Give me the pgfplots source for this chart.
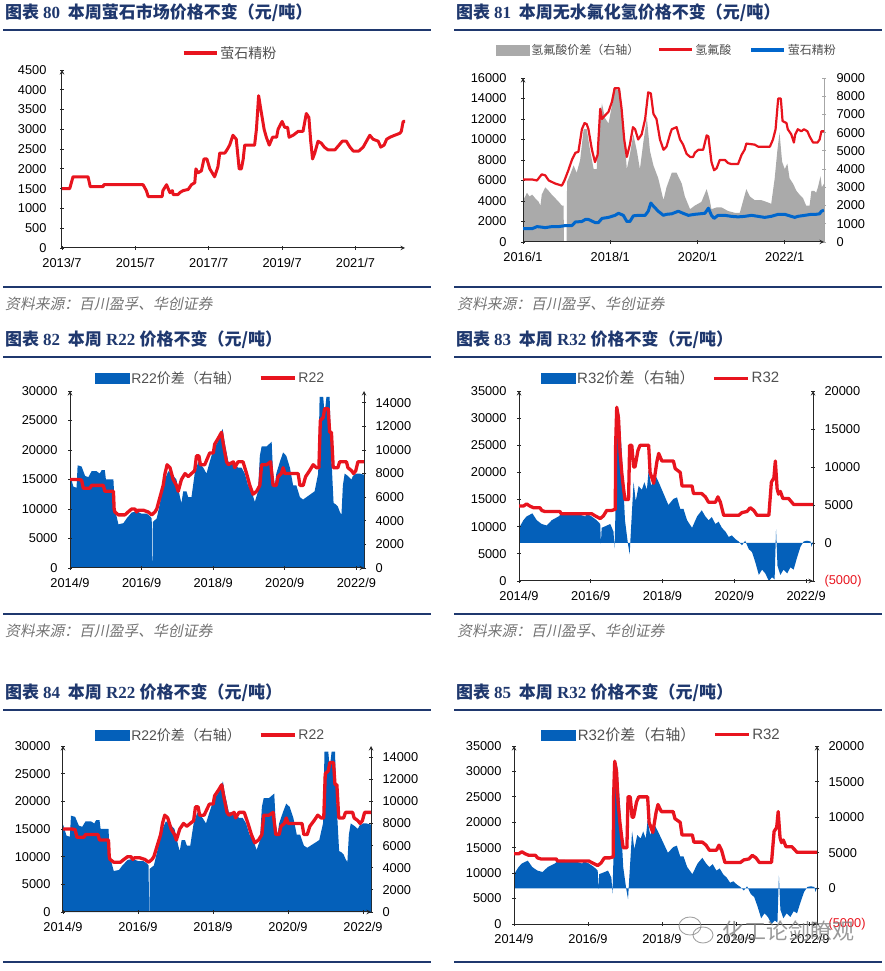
\documentclass[border=0pt]{standalone}
\usepackage{fontspec}
\setmainfont{Liberation Sans}
\newfontfamily\cjk{Noto Sans CJK SC}
\newfontfamily\cjkit{Noto Sans CJK SC}[FakeSlant=0.2]
\newfontfamily\serifb{Liberation Serif}
\usepackage{pgfplots}
\usepackage{pgfplotstable}
\pgfplotsset{compat=1.18}
\definecolor{navy}{RGB}{31,56,110}
\definecolor{cred}{RGB}{232,20,30}
\definecolor{cblue}{RGB}{4,96,186}
\definecolor{lblue}{RGB}{0,102,204}
\definecolor{cgray}{RGB}{170,170,170}
\definecolor{txtg}{RGB}{80,80,80}

% ---------- data ----------
\pgfplotstableread{
x y
2013.50 1500
2013.71 1500
2013.80 1800
2014.21 1800
2014.27 1550
2014.62 1550
2014.64 1600
2015.71 1600
2015.80 1450
2015.85 1300
2016.23 1300
2016.25 1450
2016.35 1600
2016.44 1400
2016.51 1450
2016.53 1350
2016.66 1350
2016.71 1400
2016.80 1450
2016.94 1480
2017.03 1600
2017.12 1650
2017.15 2000
2017.21 1900
2017.30 1950
2017.37 2250
2017.45 2250
2017.53 2000
2017.66 1800
2017.75 2050
2017.80 2400
2017.94 2400
2018.01 2500
2018.07 2600
2018.16 2850
2018.25 2750
2018.33 2000
2018.39 2000
2018.44 2250
2018.48 2600
2018.75 2600
2018.80 3000
2018.86 3850
2018.92 3500
2019.01 3000
2019.07 2800
2019.15 2600
2019.24 2800
2019.35 2800
2019.39 3000
2019.50 3200
2019.57 3050
2019.65 3050
2019.69 2800
2019.80 2850
2019.94 2950
2020.07 2950
2020.16 3400
2020.23 3300
2020.28 2700
2020.33 2250
2020.39 2400
2020.48 2700
2020.57 2650
2020.65 2550
2020.75 2480
2020.94 2480
2021.05 2600
2021.14 2700
2021.25 2700
2021.35 2550
2021.44 2450
2021.59 2450
2021.71 2550
2021.80 2700
2021.89 2850
2021.98 2750
2022.12 2700
2022.19 2550
2022.28 2600
2022.35 2750
2022.44 2800
2022.57 2850
2022.71 2900
2022.75 2950
2022.80 3200
2022.85 3200
}\fluor

\pgfplotstableread{
x y
2016.00 6100
2016.21 6100
2016.32 6000
2016.43 6600
2016.51 6500
2016.59 6000
2016.74 5700
2016.89 5500
2016.95 6000
2017.04 7000
2017.12 8000
2017.20 8700
2017.27 8800
2017.35 11000
2017.41 11600
2017.46 11500
2017.50 11000
2017.58 9000
2017.65 7800
2017.71 8500
2017.77 13000
2017.81 12000
2017.87 12300
2017.96 12700
2018.04 13700
2018.10 15000
2018.20 15000
2018.26 13000
2018.32 10000
2018.38 8300
2018.45 9500
2018.52 11200
2018.57 11000
2018.64 10000
2018.72 10500
2018.80 12000
2018.87 14600
2018.93 14500
2018.99 12500
2019.06 12000
2019.14 10000
2019.22 9000
2019.29 9300
2019.37 10500
2019.41 11000
2019.52 11200
2019.60 10000
2019.67 9500
2019.75 8600
2019.83 8300
2019.90 8300
2019.94 8700
2020.02 9000
2020.13 9000
2020.21 10400
2020.25 10300
2020.32 7800
2020.38 7000
2020.44 7200
2020.51 8000
2020.63 8000
2020.70 7700
2020.78 7600
2020.93 7600
2021.01 8500
2021.08 9000
2021.12 9600
2021.31 9500
2021.39 9300
2021.66 9300
2021.73 10000
2021.79 11000
2021.85 14000
2021.91 14000
2021.95 11800
2022.04 11600
2022.07 11000
2022.15 10500
2022.21 9700
2022.24 10500
2022.30 11000
2022.38 10800
2022.44 11000
2022.52 10800
2022.57 10300
2022.65 9700
2022.75 9700
2022.80 10000
2022.84 10800
2022.90 10800
}\hfred

\pgfplotstableread{
x y
2016.00 1300
2016.21 1300
2016.32 1500
2016.43 1450
2016.51 1400
2016.66 1500
2016.82 1500
2016.97 1600
2017.12 1600
2017.20 1950
2017.35 2000
2017.43 2200
2017.50 2200
2017.65 1900
2017.73 1900
2017.81 2300
2017.96 2400
2018.11 2600
2018.19 2800
2018.30 2600
2018.38 2000
2018.45 2000
2018.53 2550
2018.64 2600
2018.80 2600
2018.87 3000
2018.93 3800
2018.99 3500
2019.10 3000
2019.22 2600
2019.29 2700
2019.41 2750
2019.56 3000
2019.67 2800
2019.79 2600
2019.94 2700
2020.17 2800
2020.25 3300
2020.32 2600
2020.38 2300
2020.47 2600
2020.63 2600
2020.78 2500
2020.93 2450
2021.08 2500
2021.24 2600
2021.39 2500
2021.54 2400
2021.69 2500
2021.85 2700
2022.00 2700
2022.15 2500
2022.23 2400
2022.30 2500
2022.46 2600
2022.61 2700
2022.72 2700
2022.80 2750
2022.84 3000
2022.90 3100
}\hfblue

\pgfplotstableread{
x y
2016.00 2300
2016.05 2500
2016.09 2700
2016.15 2500
2016.21 2600
2016.28 2400
2016.36 2200
2016.40 2000
2016.43 2600
2016.51 3000
2016.59 2800
2016.66 2600
2016.74 2400
2016.82 2200
2016.89 2000
2016.93 2000
2016.94 0
2017.00 0
2017.01 3300
2017.08 3700
2017.16 4200
2017.23 3800
2017.31 4500
2017.39 6200
2017.46 6200
2017.54 5000
2017.62 4000
2017.69 4000
2017.73 6000
2017.81 7600
2017.88 6800
2017.96 6500
2018.04 7500
2018.11 8400
2018.23 8300
2018.30 6500
2018.38 4000
2018.45 4800
2018.53 5900
2018.61 5000
2018.68 4000
2018.76 5500
2018.84 6800
2018.91 5000
2018.99 4200
2019.10 3500
2019.22 2300
2019.29 3000
2019.41 3800
2019.52 3800
2019.64 3200
2019.71 2500
2019.83 1800
2019.94 2000
2020.09 2200
2020.21 2900
2020.28 2300
2020.32 1800
2020.44 1900
2020.55 1900
2020.70 1700
2020.86 1600
2020.97 1600
2021.05 2300
2021.12 2900
2021.20 2500
2021.31 2300
2021.46 2300
2021.58 2200
2021.69 2100
2021.77 3500
2021.83 5000
2021.88 6000
2021.94 4400
2022.00 4000
2022.06 4300
2022.11 3500
2022.19 3200
2022.27 2800
2022.34 2600
2022.42 2400
2022.49 2000
2022.57 2000
2022.61 2800
2022.68 2800
2022.72 2700
2022.76 3000
2022.82 3600
2022.85 3000
2022.90 3200
}\hfgray

\pgfplotstableread{
x y
2014.67 15000
2014.90 15000
2014.99 14900
2015.04 13500
2015.22 13500
2015.27 14000
2015.60 14000
2015.64 13000
2015.88 13000
2015.90 10000
2015.92 9500
2016.02 9000
2016.20 9000
2016.29 9500
2016.39 10000
2016.48 10000
2016.53 9500
2016.57 9800
2016.71 9800
2016.85 9500
2016.95 9000
2017.04 9500
2017.09 10000
2017.18 12000
2017.27 14000
2017.32 16000
2017.38 17500
2017.46 17000
2017.55 15000
2017.64 14000
2017.69 13000
2017.78 15000
2017.88 16000
2017.97 15500
2018.06 16000
2018.15 16500
2018.20 19000
2018.27 19000
2018.31 17500
2018.43 17500
2018.50 18500
2018.57 19500
2018.67 19500
2018.71 21000
2018.81 22000
2018.90 23000
2018.95 21000
2019.04 18000
2019.09 17500
2019.23 18000
2019.27 17000
2019.36 18000
2019.50 18000
2019.60 16000
2019.69 14000
2019.78 12500
2019.88 13000
2019.97 14000
2020.02 17500
2020.16 17500
2020.27 18000
2020.34 14000
2020.43 14000
2020.48 15500
2020.57 16000
2020.62 17000
2020.67 16000
2021.04 16000
2021.09 14000
2021.18 14000
2021.25 15500
2021.36 16500
2021.46 17500
2021.55 17000
2021.62 17000
2021.66 25000
2021.74 25500
2021.78 27000
2021.88 27000
2021.92 23000
2021.97 23000
2022.02 17000
2022.15 17000
2022.20 18000
2022.39 18000
2022.43 17000
2022.53 16500
2022.59 16000
2022.65 16500
2022.71 18000
2022.88 18000
}\rtwored

\pgfplotstableread{
x y
2014.67 7900
2014.76 6900
2014.85 6800
2014.88 8700
2014.99 8600
2015.09 7800
2015.18 7700
2015.27 8200
2015.41 8200
2015.50 8000
2015.55 8300
2015.64 8300
2015.67 7500
2015.88 7500
2015.92 5000
2016.02 3700
2016.16 3800
2016.25 4200
2016.39 4700
2016.53 4800
2016.67 4600
2016.81 4600
2016.90 4400
2016.95 4200
2016.96 0
2016.97 0
2016.98 3900
2017.09 4200
2017.18 5500
2017.32 7500
2017.41 8200
2017.50 8000
2017.64 7500
2017.74 6000
2017.78 5500
2017.83 6500
2017.92 6500
2017.97 6000
2018.06 6000
2018.15 8000
2018.25 9000
2018.39 8500
2018.48 8000
2018.57 9000
2018.67 10000
2018.76 10500
2018.85 11000
2018.93 11800
2018.99 10600
2019.09 9000
2019.18 9000
2019.27 8800
2019.36 8500
2019.46 8500
2019.55 8000
2019.64 7000
2019.74 6500
2019.83 5600
2019.92 6500
2019.97 9500
2020.02 10300
2020.16 10300
2020.30 10700
2020.34 8000
2020.39 7000
2020.43 8000
2020.53 9000
2020.62 9800
2020.71 9500
2020.81 8500
2020.90 7000
2020.99 7000
2021.09 6000
2021.18 5800
2021.27 6000
2021.41 6300
2021.50 6500
2021.60 8000
2021.64 14500
2021.74 14500
2021.78 13000
2021.83 14500
2021.92 14500
2021.95 11000
2021.99 8000
2022.03 5500
2022.09 5400
2022.15 5200
2022.20 4800
2022.25 4500
2022.29 7000
2022.34 8000
2022.43 7800
2022.53 7500
2022.57 7800
2022.67 8000
2022.76 8000
2022.88 7900
}\rtwospread

\pgfplotstableread{
x y
2014.67 13800
2014.79 13800
2014.88 14200
2014.97 13800
2015.07 13500
2015.25 13500
2015.30 13000
2015.39 12800
2015.81 12800
2015.84 12400
2016.69 12400
2016.79 12000
2016.93 11500
2017.02 12000
2017.11 13000
2017.25 13000
2017.35 13200
2017.36 25000
2017.39 32000
2017.44 30000
2017.48 24000
2017.53 20000
2017.58 17000
2017.62 15000
2017.72 15000
2017.75 25000
2017.81 25000
2017.86 21000
2017.90 21000
2017.98 24000
2018.04 25000
2018.28 25000
2018.32 20000
2018.42 18000
2018.51 22000
2018.56 23500
2018.65 22100
2018.97 22100
2019.02 20700
2019.16 20000
2019.21 17500
2019.49 17500
2019.53 16100
2019.76 16100
2019.86 15500
2019.95 14500
2020.14 14500
2020.21 15500
2020.28 14500
2020.37 12100
2020.79 12100
2020.88 12600
2021.02 12800
2021.11 13500
2021.21 13000
2021.30 12100
2021.63 12100
2021.70 18200
2021.77 19000
2021.81 22100
2021.86 17000
2021.90 16000
2021.95 16500
2022.02 15200
2022.18 15200
2022.32 14100
2022.86 14100
}\rthreered

\pgfplotstableread{
x y
2014.67 2000
2014.79 3000
2014.88 3500
2015.04 3900
2015.16 3000
2015.30 2500
2015.44 2300
2015.58 3000
2015.77 3500
2015.90 4000
2016.04 4000
2016.18 3700
2016.32 3800
2016.51 3500
2016.56 3800
2016.69 3500
2016.83 3000
2016.93 2500
2016.95 -100
2016.97 2000
2017.07 2200
2017.21 2500
2017.30 1500
2017.33 -700
2017.36 5000
2017.41 18000
2017.46 17000
2017.53 12000
2017.62 3000
2017.70 0
2017.75 -1500
2017.79 2000
2017.86 8000
2017.92 5500
2018.00 7500
2018.09 7000
2018.16 8000
2018.23 7000
2018.28 9600
2018.35 7500
2018.46 9000
2018.56 8000
2018.65 7000
2018.74 6000
2018.83 5000
2018.97 5800
2019.07 6000
2019.16 4500
2019.25 4500
2019.35 3000
2019.49 2000
2019.63 3500
2019.76 4300
2019.86 3500
2019.95 3000
2020.04 3400
2020.14 2500
2020.23 2800
2020.32 2000
2020.42 1500
2020.51 800
2020.60 1000
2020.70 500
2020.79 200
2020.88 -300
2020.97 300
2021.07 -800
2021.16 -1200
2021.25 -2500
2021.35 -4200
2021.44 -3500
2021.53 -4000
2021.63 -5000
2021.72 -4500
2021.79 -4800
2021.83 1800
2021.87 -3000
2021.95 -4200
2022.04 -3500
2022.14 -4000
2022.23 -3200
2022.32 -3500
2022.41 -2000
2022.51 -500
2022.60 200
2022.69 300
2022.79 200
2022.82 -500
2022.86 200
}\rthreespread

\pgfplotsset{
  base/.style={
    scale only axis, anchor=south west,
    axis line style={-, black!85, line width=1pt},
    tick style={black!85, line width=0.8pt},
    major tick length=4pt, tick align=inside,
    tick label style={font=\fontsize{12.8}{14}\selectfont},
    xticklabel style={yshift=-5pt},
    scaled y ticks=false, scaled x ticks=false,
    /pgf/number format/1000 sep={},
    /pgf/number format/assume math mode=true,
    legend style={draw=none, fill=none, legend columns=-1,
      font=\fontsize{13.5}{15}\selectfont\color{txtg},
      /tikz/every even column/.append style={column sep=16pt},
      inner sep=0pt, anchor=center},
    legend cell align=left,
  },
  leftax/.style={base, axis x line=bottom, axis y line=left, yticklabel style={xshift=-7pt}},
  rightax/.style={base, axis x line=none, axis y line=right, xtick=\empty, yticklabel style={xshift=6pt}},
  r22x/.style={xmin=2014.667, xmax=2022.88,
    xtick={2014.667,2016.667,2018.667,2020.667,2022.667},
    xticklabels={2014/9,2016/9,2018/9,2020/9,2022/9}},
  r32x/.style={xmin=2014.667, xmax=2022.86,
    xtick={2014.667,2016.667,2018.667,2020.667,2022.667},
    xticklabels={2014/9,2016/9,2018/9,2020/9,2022/9}},
}

\newcommand{\ttl}[3]{\node[anchor=west, inner sep=0pt, text=navy] at (#1) {\fontsize{17}{19}\selectfont\cjk\bfseries 图表\ {\serifb\bfseries #2}\ \ #3};}
\newcommand{\src}[1]{\node[anchor=west, inner sep=0pt, text=black!55] at (#1) {\fontsize{14.8}{16}\selectfont\cjkit 资料来源：百川盈孚、华创证券};}

\begin{document}
\begin{tikzpicture}
\path (0pt,0pt) rectangle (885pt,971pt);

% rules
\begin{scope}[navy, line width=2pt]
\draw (3pt,941pt) -- (431pt,941pt);
\draw (454pt,941pt) -- (882pt,941pt);
\draw (3pt,684pt) -- (431pt,684pt);
\draw (454pt,684pt) -- (882pt,684pt);
\draw (3pt,614pt) -- (431pt,614pt);
\draw (454pt,614pt) -- (882pt,614pt);
\draw (3pt,357pt) -- (431pt,357pt);
\draw (454pt,357pt) -- (882pt,357pt);
\draw (3pt,261pt) -- (431pt,261pt);
\draw (454pt,261pt) -- (882pt,261pt);
\draw (3pt,9pt) -- (431pt,9pt);
\draw (454pt,9pt) -- (882pt,9pt);
\end{scope}

% titles
\ttl{5pt,958pt}{80}{本周萤石市场价格不变（元/吨）}
\ttl{456pt,958pt}{81}{本周无水氟化氢价格不变（元/吨）}
\ttl{5pt,631pt}{82}{本周{\serifb\bfseries\ R22\ }价格不变（元/吨）}
\ttl{456pt,631pt}{83}{本周{\serifb\bfseries\ R32\ }价格不变（元/吨）}
\ttl{5pt,278pt}{84}{本周{\serifb\bfseries\ R22\ }价格不变（元/吨）}
\ttl{456pt,278pt}{85}{本周{\serifb\bfseries\ R32\ }价格不变（元/吨）}
\src{5pt,667pt}
\src{457pt,667pt}
\src{5pt,340pt}
\src{457pt,340pt}

% ===== Panel 80 =====
\begin{axis}[base, axis x line=bottom, axis y line=left, yticklabel style={xshift=-10pt},
  at={(62pt,723pt)}, width=343pt, height=178pt,
  xmin=2013.5, xmax=2022.85, ymin=0, ymax=4500,
  ytick={0,500,...,4500},
  xtick={2013.5,2015.5,2017.5,2019.5,2021.5},
  xticklabels={2013/7,2015/7,2017/7,2019/7,2021/7},
  legend style={at={(0.49,1.096)}, font=\fontsize{14}{15}\selectfont\color{txtg}}]
\addplot[cred, line width=3pt, line join=round,
  legend image code/.code={\draw[cred, line width=3.5pt] (0pt,0pt)--(33pt,0pt);}]
  table[x=x,y=y]{\fluor};
\addlegendentry{\cjk 萤石精粉}
\end{axis}

% ===== Panel 81 =====
\begin{axis}[rightax, axis line style={-, black!35, line width=1pt}, tick style={black!35},
  yticklabel style={xshift=1pt},
  at={(523pt,729pt)}, width=301pt, height=164pt,
  xmin=2016, xmax=2022.9, ymin=0, ymax=9000, ytick={0,1000,...,9000}]
\addplot[fill=cgray, draw=none] table[x=x,y=y]{\hfgray} \closedcycle;
\end{axis}
\begin{axis}[leftax, yticklabel style={xshift=-4pt},
  at={(523pt,729pt)}, width=301pt, height=164pt,
  xmin=2016, xmax=2022.9, ymin=0, ymax=16000, ytick={0,2000,...,16000},
  xtick={2016,2018,2020,2022}, xticklabels={2016/1,2018/1,2020/1,2022/1},
  legend style={at={(0.478,1.171)}, font=\fontsize{12}{13}\selectfont\color{txtg}}]
\addlegendimage{legend image code/.code={\fill[cgray] (0pt,-5pt) rectangle (33pt,5pt);}}
\addlegendentry{\cjk 氢氟酸价差（右轴）}
\addplot[cred, line width=2.2pt, line join=round,
  legend image code/.code={\draw[cred, line width=3pt] (0pt,0pt)--(33pt,0pt);}]
  table[x=x,y=y]{\hfred};
\addlegendentry{\cjk 氢氟酸}
\addplot[lblue, line width=3pt, line join=round,
  legend image code/.code={\draw[lblue, line width=3.5pt] (0pt,0pt)--(33pt,0pt);}]
  table[x=x,y=y]{\hfblue};
\addlegendentry{\cjk 萤石精粉}
\end{axis}

% ===== Panel 82 =====
\begin{axis}[rightax, r22x,
  at={(70pt,403pt)}, width=294pt, height=177pt,
  ymin=0, ymax=15000, ytick={0,2000,...,14000}]
\addplot[fill=cblue, draw=none] table[x=x,y=y]{\rtwospread} \closedcycle;
\end{axis}
\begin{axis}[leftax, r22x,
  at={(70pt,403pt)}, width=294pt, height=177pt,
  ymin=0, ymax=30000, ytick={0,5000,...,30000},
  legend style={at={(0.478,1.073)}, font=\fontsize{14}{15}\selectfont\color{txtg}}]
\addlegendimage{legend image code/.code={\fill[cblue] (0pt,-5pt) rectangle (34pt,5pt);}}
\addlegendentry{R22{\cjk 价差（右轴）}}
\addplot[cred, line width=3.3pt, line join=round,
  legend image code/.code={\draw[cred, line width=3.5pt] (0pt,0pt)--(34pt,0pt);}]
  table[x=x,y=y]{\rtwored};
\addlegendentry{R22}
\end{axis}

% ===== Panel 83 =====
\begin{axis}[rightax, r32x,
  at={(519pt,390pt)}, width=294pt, height=190pt,
  ymin=-5000, ymax=20000, ytick={-5000,0,5000,10000,15000,20000},
  yticklabels={\textcolor{cred}{(5000)},0,5000,10000,15000,20000}]
\addplot[fill=cblue, draw=none] table[x=x,y=y]{\rthreespread} \closedcycle;
\end{axis}
\begin{axis}[leftax, r32x,
  at={(519pt,390pt)}, width=294pt, height=190pt,
  ymin=0, ymax=35000, ytick={0,5000,...,35000},
  legend style={at={(0.483,1.068)}, font=\fontsize{15}{16}\selectfont\color{txtg}}]
\addlegendimage{legend image code/.code={\fill[cblue] (0pt,-5pt) rectangle (34pt,5pt);}}
\addlegendentry{R32{\cjk 价差（右轴）}}
\addplot[cred, line width=3.3pt, line join=round,
  legend image code/.code={\draw[cred, line width=3pt] (0pt,0pt)--(34pt,0pt);}]
  table[x=x,y=y]{\rthreered};
\addlegendentry{R32}
\end{axis}

% ===== Panel 84 =====
\begin{axis}[rightax, r22x,
  at={(63pt,59pt)}, width=308pt, height=166pt,
  ymin=0, ymax=15000, ytick={0,2000,...,14000}]
\addplot[fill=cblue, draw=none] table[x=x,y=y]{\rtwospread} \closedcycle;
\end{axis}
\begin{axis}[leftax, r22x,
  at={(63pt,59pt)}, width=308pt, height=166pt,
  ymin=0, ymax=30000, ytick={0,5000,...,30000},
  legend style={at={(0.479,1.066)}, font=\fontsize{14}{15}\selectfont\color{txtg}}]
\addlegendimage{legend image code/.code={\fill[cblue] (0pt,-5pt) rectangle (34pt,5pt);}}
\addlegendentry{R22{\cjk 价差（右轴）}}
\addplot[cred, line width=3.3pt, line join=round,
  legend image code/.code={\draw[cred, line width=3.5pt] (0pt,0pt)--(34pt,0pt);}]
  table[x=x,y=y]{\rtwored};
\addlegendentry{R22}
\end{axis}

% ===== Panel 85 =====
\begin{axis}[rightax, r32x,
  at={(514pt,47pt)}, width=303pt, height=178pt,
  ymin=-5000, ymax=20000, ytick={-5000,0,5000,10000,15000,20000},
  yticklabels={\textcolor{cred}{(5000)},0,5000,10000,15000,20000}]
\addplot[fill=cblue, draw=none] table[x=x,y=y]{\rthreespread} \closedcycle;
\end{axis}
\begin{axis}[leftax, r32x,
  at={(514pt,47pt)}, width=303pt, height=178pt,
  ymin=0, ymax=35000, ytick={0,5000,...,35000},
  legend style={at={(0.487,1.062)}, font=\fontsize{15}{16}\selectfont\color{txtg}}]
\addlegendimage{legend image code/.code={\fill[cblue] (0pt,-5pt) rectangle (34pt,5pt);}}
\addlegendentry{R32{\cjk 价差（右轴）}}
\addplot[cred, line width=3.3pt, line join=round,
  legend image code/.code={\draw[cred, line width=3pt] (0pt,0pt)--(34pt,0pt);}]
  table[x=x,y=y]{\rthreered};
\addlegendentry{R32}
\end{axis}

% watermark
\begin{scope}[black!45, line width=0.9pt, opacity=0.8]
\draw (690pt,45pt) ellipse (11pt and 9pt);
\draw (703pt,36pt) ellipse (10pt and 8pt);
\node[anchor=west, inner sep=0pt, text=black!50] at (722pt,40pt) {\fontsize{22}{24}\selectfont\cjk 化工论剑瞭观};
\end{scope}
\end{tikzpicture}
\end{document}
